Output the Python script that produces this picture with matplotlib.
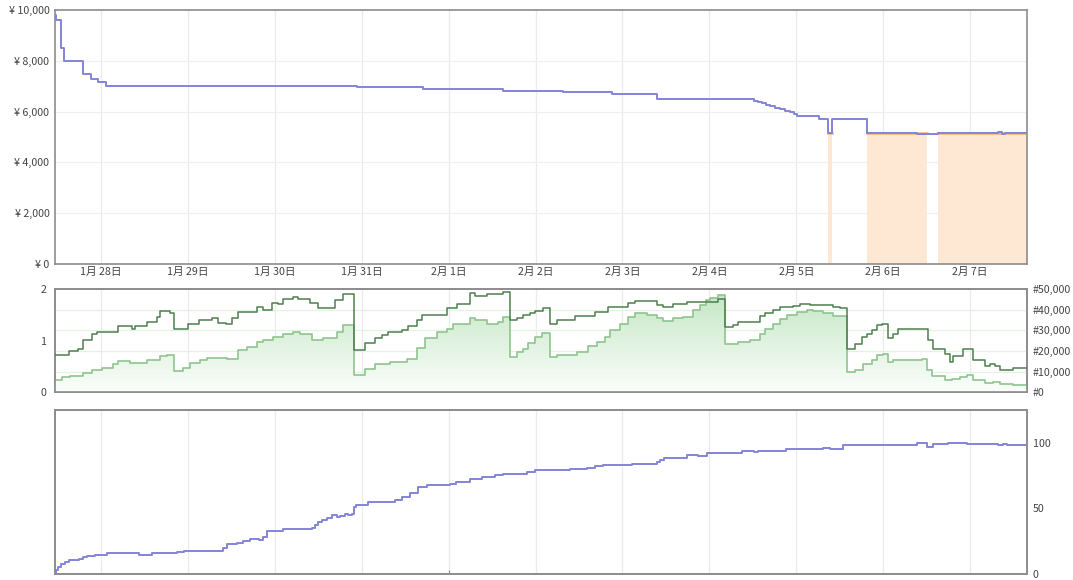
import numpy as np
import matplotlib.pyplot as plt
from matplotlib.colors import LinearSegmentedColormap

plt.rcParams['font.family'] = ['Noto Sans CJK JP', 'DejaVu Sans']

# time axis: days since 1月28日 00:00
day_labels = ['1月 28日', '1月 29日', '1月 30日', '1月 31日', '2月 1日', '2月 2日',
              '2月 3日', '2月 4日', '2月 5日', '2月 6日', '2月 7日']
t_start, t_end = -0.529, 10.656

# new price (yen)
price_t = [-0.529, -0.518, -0.460, -0.426, -0.207, -0.115, -0.035, 0.058, 2.946, 3.498,
           3.705, 4.304, 4.626, 5.316, 5.880, 6.398, 7.514, 7.560, 7.606, 7.652,
           7.698, 7.756, 7.814, 7.871, 7.929, 7.975, 8.009, 8.262, 8.366, 8.412,
           8.815, 9.390, 9.632, 10.322, 10.368, 10.403, 10.656]
price_v = [9800, 9600, 8500, 8000, 7500, 7300, 7150, 7000, 6980, 6950,
           6900, 6880, 6800, 6780, 6680, 6480, 6420, 6370, 6320, 6270,
           6220, 6160, 6100, 6040, 5980, 5900, 5830, 5710, 5150, 5710,
           5150, 5100, 5150, 5180, 5100, 5150, 5150]

# amazon price segments
amazon_start = [8.366, 8.815, 9.632]
amazon_end = [8.412, 9.505, 10.656]
amazon_price = [5150, 5150, 5160]

# sales rank (two series)
rank1_t = [-0.529, -0.368, -0.265, -0.207, -0.104, -0.046, 0.196, 0.357, 0.391, 0.529,
           0.644, 0.679, 0.794, 0.840, 1.001, 1.128, 1.277, 1.346, 1.438, 1.507,
           1.576, 1.795, 1.864, 1.968, 2.037, 2.094, 2.209, 2.267, 2.405, 2.497,
           2.693, 2.785, 2.911, 3.038, 3.153, 3.234, 3.303, 3.464, 3.533, 3.636,
           3.694, 3.982, 4.097, 4.246, 4.304, 4.442, 4.626, 4.707, 4.787, 4.856,
           4.937, 4.994, 5.086, 5.167, 5.247, 5.455, 5.685, 5.834, 6.064, 6.145,
           6.398, 6.467, 6.582, 6.743, 7.100, 7.181, 7.273, 7.330, 7.583, 7.641,
           7.733, 7.814, 7.963, 8.044, 8.159, 8.424, 8.504, 8.585, 8.677, 8.757,
           8.815, 8.872, 8.930, 8.987, 9.056, 9.114, 9.172, 9.517, 9.574, 9.712,
           9.770, 9.804, 9.919, 10.035, 10.173, 10.230, 10.288, 10.345, 10.495, 10.656]
rank1_v = [18000, 20000, 21200, 25600, 28200, 29300, 32200, 30900, 32200, 34300,
           36300, 39500, 38200, 30900, 33000, 35000, 35800, 33600, 33200, 36100,
           38700, 41400, 40100, 43300, 42700, 45300, 46300, 45000, 43300, 40900,
           44700, 47600, 20400, 23900, 26400, 28000, 29300, 30400, 32000, 35000,
           37400, 40600, 42600, 47900, 46600, 47400, 48700, 35000, 35800, 37400,
           38500, 39500, 40600, 33300, 35000, 36900, 39000, 41200, 43300, 44300,
           42200, 41400, 42600, 43800, 45100, 31700, 32800, 34100, 36900, 38200,
           39800, 41200, 41700, 42700, 42200, 41400, 40600, 21200, 23600, 26800,
           28500, 30400, 32500, 33300, 26500, 28500, 30600, 25200, 21200, 18400,
           14700, 17500, 21200, 15500, 12600, 13900, 12600, 11000, 12000, 12000]

rank2_t = [-0.529, -0.449, -0.357, -0.207, -0.104, 0.012, 0.138, 0.196, 0.334, 0.529,
           0.679, 0.759, 0.840, 0.944, 1.024, 1.139, 1.220, 1.450, 1.576, 1.680,
           1.795, 1.864, 1.979, 2.094, 2.209, 2.290, 2.428, 2.555, 2.716, 2.785,
           2.911, 3.038, 3.153, 3.326, 3.521, 3.636, 3.728, 3.866, 3.982, 4.051,
           4.246, 4.304, 4.442, 4.568, 4.626, 4.707, 4.787, 4.856, 4.914, 4.994,
           5.075, 5.167, 5.247, 5.478, 5.604, 5.708, 5.800, 5.857, 5.972, 6.064,
           6.145, 6.283, 6.398, 6.467, 6.582, 6.697, 6.812, 6.893, 6.962, 7.008,
           7.100, 7.181, 7.330, 7.468, 7.583, 7.641, 7.733, 7.814, 7.894, 8.009,
           8.124, 8.193, 8.308, 8.424, 8.585, 8.677, 8.769, 8.872, 8.930, 8.999,
           9.056, 9.114, 9.195, 9.344, 9.448, 9.505, 9.563, 9.712, 9.793, 9.885,
           9.965, 10.035, 10.173, 10.265, 10.345, 10.495, 10.656]
rank2_v = [5800, 7400, 8200, 9400, 10700, 12000, 13600, 15200, 14200, 15500,
           17500, 18100, 10400, 12000, 14200, 15500, 16700, 16200, 20400, 22000,
           24400, 25600, 26800, 28500, 29300, 28200, 25600, 26500, 29300, 32500,
           8600, 11500, 13600, 14700, 16300, 21500, 26500, 29300, 30900, 33300,
           35800, 35000, 33300, 34100, 36300, 17100, 19600, 21200, 23900, 26800,
           28800, 17100, 18000, 19600, 22300, 24400, 26800, 30400, 33300, 36600,
           38200, 37400, 35800, 34600, 35800, 36600, 39800, 42200, 44700, 45500,
           47100, 23600, 24400, 25600, 28500, 30900, 33300, 35300, 37400, 39000,
           39800, 39500, 38500, 36900, 9900, 11000, 13900, 15800, 18000, 18800,
           14700, 15800, 15500, 15800, 16300, 10700, 7800, 6100, 6600, 7400,
           8600, 5800, 4500, 5000, 3900, 3400, 3400]

# bottom series
count_t = [-0.529, -0.518, -0.495, -0.460, -0.414, -0.368, -0.253, -0.207, -0.161, -0.069,
           0.069, 0.437, 0.587, 0.875, 0.955, 1.404, 1.450, 1.565, 1.634, 1.715,
           1.818, 1.864, 1.910, 2.094, 2.428, 2.463, 2.497, 2.543, 2.601, 2.658,
           2.716, 2.750, 2.808, 2.842, 2.888, 2.911, 2.934, 3.072, 3.383, 3.464,
           3.556, 3.648, 3.751, 4.016, 4.085, 4.246, 4.384, 4.534, 4.626, 4.902,
           4.994, 5.397, 5.593, 5.685, 5.777, 6.110, 6.398, 6.433, 6.479, 6.743,
           6.870, 6.974, 7.376, 7.514, 7.560, 7.883, 8.308, 8.389, 8.539, 9.390,
           9.505, 9.574, 9.747, 9.965, 10.322, 10.380, 10.426, 10.656]
count_v = [1, 3.4, 5.4, 7.7, 9.2, 10.8, 11.8, 13.1, 13.8, 14.6,
           15.7, 14.6, 15.7, 16.7, 17.7, 20, 22.6, 23.8, 25.2, 26.7,
           25.7, 28.2, 32.8, 34.1, 35.4, 37.5, 40, 41.5, 43, 44.9,
           43.6, 44.6, 45.7, 44.9, 45.7, 51.3, 52.8, 55.2, 56.4, 59,
           61.5, 66.7, 68.2, 68.7, 70.3, 72.6, 73.9, 75.2, 76.5, 77.7,
           79, 80, 81, 82, 83.4, 84.1, 85.4, 86.7, 88.8, 91,
           89.8, 92.3, 93.8, 92.8, 93.8, 94.9, 96.4, 95.4, 98, 99.8,
           96.9, 98.8, 100, 99.2, 98, 99.2, 98, 98]

days = np.arange(len(day_labels))
frame = '#8c8c8c'
txt = '#444444'
fs = 7.7

fig = plt.figure(figsize=(10.73, 5.8), dpi=100)
ax1 = fig.add_axes([0.0513, 0.5448, 0.9059, 0.4379])
ax2 = fig.add_axes([0.0513, 0.3233, 0.9059, 0.1784])
ax3 = fig.add_axes([0.0513, 0.0103, 0.9059, 0.2828])

for ax in (ax1, ax2, ax3):
    ax.set_xlim(t_start, t_end)
    for s in ax.spines.values():
        s.set_color(frame)
        s.set_linewidth(1.2)
    ax.set_xticks(days)
    for d in days:
        ax.axvline(d, color='#ebebeb', lw=0.9, zorder=0)

# --- price panel
ax1.set_ylim(0, 10000)
ax1.set_yticks(np.arange(0, 10001, 2000))
ax1.set_yticklabels(['¥ 0', '¥ 2,000', '¥ 4,000', '¥ 6,000', '¥ 8,000', '¥ 10,000'])
for v in range(2000, 10000, 2000):
    ax1.axhline(v, color='#f0f0f0', lw=0.9, zorder=0)
ax1.set_xticklabels(day_labels)
ax1.tick_params(axis='y', length=0, labelsize=fs, colors=txt, pad=4)
ax1.tick_params(axis='x', length=0, labelsize=fs, colors=txt, pad=2)
for s, e, p in zip(amazon_start, amazon_end, amazon_price):
    ax1.fill_between([s, e], 0, [p, p], color='#fee8d3', lw=0, zorder=1)
    ax1.plot([s, e], [p, p], color='#f3b270', lw=1.8, zorder=2)
ax1.step(price_t, price_v, where='post', color='#8484d8', lw=1.4, zorder=3)

# --- sales rank panel
ax2.set_ylim(0, 2)
ax2.set_yticks([0, 1, 2])
ax2.set_xticklabels([])
ax2.tick_params(axis='y', length=0, labelsize=fs, colors=txt, pad=6)
ax2.tick_params(axis='x', direction='in', length=3, color=frame, width=0.8)
ax2r = ax2.twinx()
ax2r.set_xlim(t_start, t_end)
ax2r.set_ylim(0, 50000)
ax2r.set_yticks(np.arange(0, 50001, 10000))
ax2r.set_yticklabels(['#0', '#10,000', '#20,000', '#30,000', '#40,000', '#50,000'])
ax2r.tick_params(length=0, labelsize=fs, colors=txt, pad=4)
for s in ax2r.spines.values():
    s.set_color(frame)
    s.set_linewidth(1.2)
for v in range(10000, 50000, 10000):
    ax2r.axhline(v, color='#e3f3e3', lw=0.9, zorder=0)
poly = ax2r.fill_between(rank2_t, 0, rank2_v, step='post', color='none', lw=0)
cmap = LinearSegmentedColormap.from_list('g', ['#fbfefb', '#c2e6c2'])
grad = np.linspace(0, 1, 256).reshape(-1, 1)
im = ax2r.imshow(grad, extent=[t_start, t_end, 0, 50000], origin='lower',
                 aspect='auto', cmap=cmap, zorder=1)
im.set_clip_path(poly.get_paths()[0], transform=ax2r.transData)
ax2r.step(rank2_t, rank2_v, where='post', color='#8fc48f', lw=1.2, zorder=2)
ax2r.step(rank1_t, rank1_v, where='post', color='#4e7e4e', lw=1.1, zorder=3)
ax2r.set_xlim(t_start, t_end)
ax2r.set_ylim(0, 50000)

# --- bottom panel
ax3.set_ylim(0, 125)
ax3.set_yticks([])
ax3.set_xticklabels([])
ax3.tick_params(axis='x', direction='in', length=3, color=frame, width=0.8)
ax3r = ax3.twinx()
ax3r.set_xlim(t_start, t_end)
ax3r.set_ylim(0, 125)
ax3r.set_yticks([0, 50, 100])
ax3r.tick_params(length=0, labelsize=fs, colors=txt, pad=4)
for s in ax3r.spines.values():
    s.set_color(frame)
    s.set_linewidth(1.2)
ax3r.step(count_t, count_v, where='post', color='#8484d8', lw=1.4)

# only the 2月 1日 tick mark shows on the lower panels
for ax in (ax2, ax3):
    ax.set_xticks([4])
    ax.set_xticklabels([])

fig.savefig('out.png', dpi=100)
